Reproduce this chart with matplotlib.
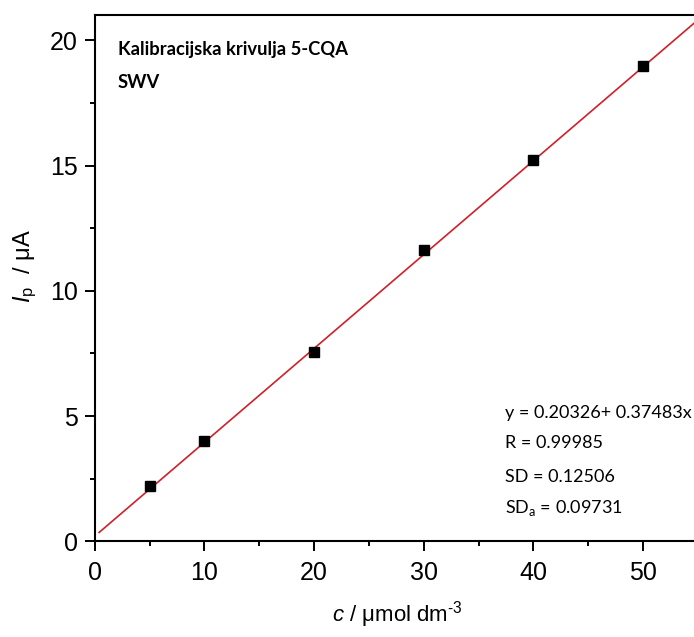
import matplotlib
matplotlib.use("Agg")
import matplotlib.pyplot as plt
import numpy as np

# data
conc = [5, 10, 20, 30, 40, 50]
current = [2.22, 4.00, 7.55, 11.61, 15.21, 18.96]
fit_intercept = 0.20326
fit_slope = 0.37483
fit_x_range = [0.4, 56.0]
x_ticks = [0, 10, 20, 30, 40, 50]
y_ticks = [0, 5, 10, 15, 20]
stats_lines = ["y = 0.20326+ 0.37483x", "R = 0.99985", "SD = 0.12506",
               r"SD$_{\mathsf{a}}$ = 0.09731"]

plt.rcParams['mathtext.fontset'] = 'custom'
plt.rcParams['mathtext.rm'] = 'Liberation Sans'
plt.rcParams['mathtext.it'] = 'Liberation Sans:italic'
plt.rcParams['mathtext.sf'] = 'Lato'

W, H = 694, 637
fig = plt.figure(figsize=(W / 100, H / 100), dpi=100)
left, bottom = 94.7 / W, 1 - 541.3 / H
top = 1 - 15.3 / H
ax = fig.add_axes([left, bottom, 698 / W - left, top - bottom])

fx = np.array(fit_x_range)
ax.plot(fx, fit_intercept + fit_slope * fx, color='#d0202a', lw=1.2, zorder=2)
ax.plot(conc, current, 's', color='black', ms=7.2, zorder=3)

ax.set_xlim(0, 55)
ax.set_ylim(0, 21)
ax.set_xticks(x_ticks)
ax.set_yticks(y_ticks)
ax.set_xticks([5, 15, 25, 35, 45], minor=True)
ax.set_yticks([2.5, 7.5, 12.5, 17.5], minor=True)
ax.spines['right'].set_visible(False)
for s in ax.spines.values():
    s.set_linewidth(1.5)
ax.tick_params(which='major', direction='out', length=7, width=1.4,
               labelsize=18)
ax.tick_params(which='minor', direction='out', length=3.5, width=1.4)
ax.tick_params(axis='x', which='major', pad=7)
ax.tick_params(axis='y', which='major', pad=5)
for lab in ax.get_xticklabels() + ax.get_yticklabels():
    lab.set_fontfamily('Liberation Sans')

fig.text(118 / W, 1 - 50 / H, "Kalibracijska krivulja 5-CQA", family='Lato',
         fontweight='bold', fontsize=13.2, ha='left', va='center')
fig.text(118 / W, 1 - 82 / H, "SWV", family='Lato',
         fontweight='bold', fontsize=13.2, ha='left', va='center')

ys = [413, 443, 477, 508]
for t, yy in zip(stats_lines, ys):
    fig.text(505 / W, 1 - yy / H, t, family='Lato', fontsize=13,
             ha='left', va='center')

fig.text(25 / W, 1 - 266 / H, r"$I_{\mathrm{p}}$  / μA", rotation=90,
         ha='center', va='center', fontsize=17, family='Liberation Sans')
fig.text(397 / W, 1 - 615 / H, "$c$ / μmol dm$^{\\mathrm{\u2010 3}}$".replace(" 3", "3"),
         ha='center', va='center', fontsize=16, family='Liberation Sans')

fig.savefig("out.png", dpi=100)
